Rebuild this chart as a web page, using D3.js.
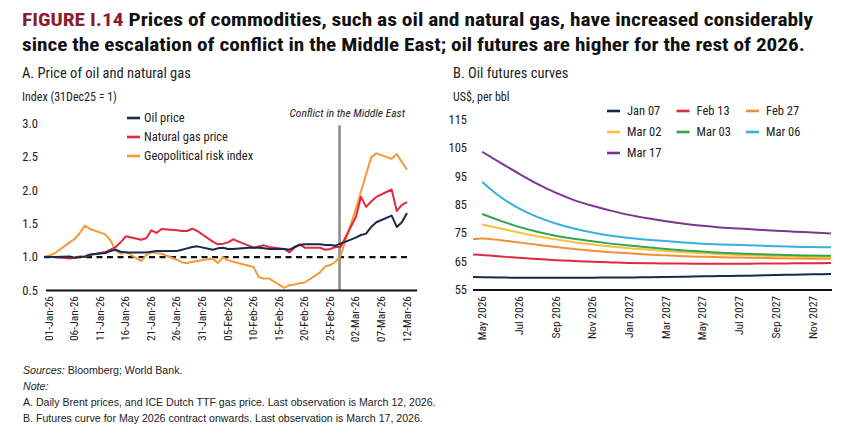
<!DOCTYPE html>
<html><head><meta charset="utf-8">
<script src="https://cdn.jsdelivr.net/npm/d3@7"></script>
<style>
body{margin:0;background:#fff;}
svg{display:block;}
text{font-family:"Liberation Sans Narrow","Arial Narrow","Roboto Condensed",sans-serif;fill:#222;}
.note{font-family:"Liberation Sans",Arial,sans-serif;}
</style></head><body>
<svg id="c" width="860" height="433"></svg>
<script>
// ---------- Panel A data ----------
const datesA = ["2025-12-31","2026-01-02","2026-01-05","2026-01-06","2026-01-07","2026-01-08","2026-01-09",
 "2026-01-12","2026-01-13","2026-01-14","2026-01-15","2026-01-16",
 "2026-01-19","2026-01-20","2026-01-21","2026-01-22","2026-01-23",
 "2026-01-26","2026-01-27","2026-01-28","2026-01-29","2026-01-30",
 "2026-02-02","2026-02-03","2026-02-04","2026-02-05","2026-02-06",
 "2026-02-09","2026-02-10","2026-02-11","2026-02-12","2026-02-13",
 "2026-02-16","2026-02-17","2026-02-18","2026-02-19","2026-02-20",
 "2026-02-23","2026-02-24","2026-02-25","2026-02-26","2026-02-27",
 "2026-03-02","2026-03-03","2026-03-04","2026-03-05","2026-03-06",
 "2026-03-09","2026-03-10","2026-03-11","2026-03-12"];
const oilPrice = [1.00,1.00,1.01,0.99,1.00,1.01,1.04,
 1.06,1.09,1.11,1.08,1.07,
 1.07,1.07,1.08,1.09,1.09,
 1.09,1.11,1.13,1.15,1.16,
 1.11,1.13,1.14,1.12,1.12,
 1.14,1.14,1.14,1.13,1.12,
 1.12,1.11,1.15,1.18,1.19,
 1.19,1.18,1.18,1.17,1.20,
 1.29,1.33,1.35,1.45,1.52,
 1.62,1.45,1.52,1.66];
const gasPrice = [1.00,1.00,0.98,0.99,1.01,1.00,1.03,
 1.075,1.11,1.15,1.22,1.31,
 1.26,1.28,1.40,1.36,1.42,
 1.40,1.39,1.39,1.425,1.39,
 1.23,1.19,1.20,1.22,1.265,
 1.17,1.14,1.16,1.175,1.15,
 1.12,1.07,1.14,1.19,1.14,
 1.14,1.11,1.12,1.15,1.15,
 1.60,1.90,1.75,1.83,1.90,
 2.01,1.69,1.78,1.82];
const geoRisk = [1.00,1.05,1.22,1.27,1.36,1.47,1.42,
 1.34,1.25,1.10,1.05,1.08,
 0.94,1.03,1.07,1.06,1.05,
 0.96,0.92,0.91,0.93,0.94,
 0.98,0.91,1.00,0.95,0.93,
 0.87,0.85,0.70,0.68,0.68,
 0.54,0.58,0.59,0.61,0.62,
 0.77,0.86,0.88,0.93,1.02,
 1.72,1.98,2.24,2.49,2.55,
 2.47,2.54,2.42,2.31];
const seriesA = ["Oil price","Natural gas price","Geopolitical risk index"];
const ticksA = ["2026-01-01","2026-01-06","2026-01-11","2026-01-16","2026-01-21","2026-01-26","2026-01-31",
 "2026-02-05","2026-02-10","2026-02-15","2026-02-20","2026-02-25","2026-03-02","2026-03-07","2026-03-12"];
const yTicksA = [0.5,1.0,1.5,2.0,2.5,3.0];
const conflictDate = "2026-02-27";

// ---------- Panel B data ----------
const contractMonths = ["2026-04","2026-05","2026-06","2026-07","2026-08","2026-09","2026-10","2026-11","2026-12",
 "2027-01","2027-02","2027-03","2027-04","2027-05","2027-06","2027-07","2027-08","2027-09","2027-10","2027-11","2027-12"];
const curveNames = ["Jan 07","Feb 13","Feb 27","Mar 02","Mar 03","Mar 06","Mar 17"];
const jan07 = [59.6,59.5,59.4,59.3,59.3,59.3,59.3,59.3,59.4,59.4,59.5,59.6,59.7,59.8,59.9,60.0,60.1,60.3,60.4,60.5,60.6];
const feb13 = [67.6,67.3,66.8,66.3,65.9,65.5,65.2,64.9,64.7,64.5,64.4,64.3,64.3,64.2,64.2,64.2,64.3,64.3,64.4,64.4,64.5];
const feb27 = [72.3,73.1,72.5,71.7,70.9,70.1,69.4,68.8,68.3,67.9,67.5,67.2,66.9,66.7,66.5,66.4,66.3,66.2,66.1,66.0,66.0];
const mar02 = [null,78.0,76.6,75.2,73.9,72.8,71.8,71.0,70.3,69.7,69.2,68.7,68.3,67.9,67.6,67.3,67.1,66.9,66.7,66.6,66.5];
const mar03 = [null,81.7,79.3,77.2,75.5,74.1,73.0,72.1,71.3,70.6,70.0,69.4,68.9,68.5,68.1,67.8,67.6,67.4,67.2,67.1,67.0];
const mar06 = [null,93.0,87.7,83.7,80.7,78.4,76.6,75.2,74.1,73.3,72.7,72.2,71.7,71.3,71.0,70.8,70.6,70.4,70.2,70.1,70.0];
const mar17 = [null,103.6,99.7,95.9,92.3,89.2,86.6,84.6,82.9,81.4,80.2,79.2,78.3,77.6,77.0,76.6,76.2,75.8,75.5,75.2,74.9];
const ticksB = ["2026-05","2026-07","2026-09","2026-11","2027-01","2027-03","2027-05","2027-07","2027-09","2027-11"];
const yTicksB = [55,65,75,85,95,105,115];

// ---------- styles ----------
const colorsA = ["#172a4c","#e2283f","#f39b3a"];
const colorsB = ["#172a4c","#e2283f","#f0913a","#f8c13a","#36a352","#36b0de","#7d3592"];

const svg = d3.select("#c");
svg.append("rect").attr("width",860).attr("height",433).attr("fill","#fff");

// Title
const t1 = svg.append("text").attr("x",22).attr("y",26).style("font-size","18px").style("font-weight","bold")
  .attr("textLength",791).attr("lengthAdjust","spacingAndGlyphs");
t1.append("tspan").text("FIGURE I.14 ").style("fill","#8c1c2c");
t1.append("tspan").text("Prices of commodities, such as oil and natural gas, have increased considerably").style("fill","#111");
svg.append("text").attr("x",22).attr("y",51).style("font-size","18px").style("font-weight","bold").style("fill","#111")
  .attr("textLength",783).attr("lengthAdjust","spacingAndGlyphs")
  .text("since the escalation of conflict in the Middle East; oil futures are higher for the rest of 2026.");

svg.append("text").attr("x",22).attr("y",78).style("font-size","14.5px").text("A. Price of oil and natural gas");
svg.append("text").attr("x",453).attr("y",78).style("font-size","14.5px").text("B. Oil futures curves");
svg.append("text").attr("x",22).attr("y",101).style("font-size","12px").text("Index (31Dec25 = 1)");
svg.append("text").attr("x",453).attr("y",101).style("font-size","12px").text("US$, per bbl");

// ---------- Panel A ----------
const parse = d3.timeParse("%Y-%m-%d");
const dA = datesA.map(parse);
const xA = d3.scaleTime().domain([parse("2025-12-31"), parse("2026-03-12")]).range([44,407]);
const yA = d3.scaleLinear().domain([0.5,3.0]).range([290.5,123.3]);
const gA = svg.append("g");

gA.selectAll(".yt").data(yTicksA).join("text")
  .attr("x",38).attr("y",d=>yA(d)).attr("dy","0.35em").attr("text-anchor","end")
  .style("font-size","12.5px").text(d=>d3.format(".1f")(d));

// baseline dashed at 1
gA.append("line").attr("x1",xA.range()[0]).attr("x2",xA.range()[1]).attr("y1",yA(1)).attr("y2",yA(1))
  .attr("stroke","#111").attr("stroke-width",2.2).attr("stroke-dasharray","6,4.5");

// conflict line
const xc = xA(parse(conflictDate));
gA.append("line").attr("x1",xc-1).attr("x2",xc-1).attr("y1",yA(2.97)).attr("y2",yA(0.5))
  .attr("stroke","#8a8a8a").attr("stroke-width",2.5);
gA.append("text").attr("x",405).attr("y",117).attr("text-anchor","end").style("font-size","11.5px")
  .style("font-style","italic").text("Conflict in the Middle East");

const valsA = [oilPrice, gasPrice, geoRisk];
const lineA = d3.line().x((d,i)=>xA(dA[i])).y(d=>yA(d));
[2,1,0].forEach(k=>{
  gA.append("path").datum(valsA[k]).attr("d",lineA).attr("fill","none")
    .attr("stroke",colorsA[k]).attr("stroke-width",2).attr("stroke-linejoin","round");
});

// x axis A
gA.append("line").attr("x1",xA.range()[0]+2).attr("x2",xA(parse("2026-03-13"))+5).attr("y1",yA(0.5)).attr("y2",yA(0.5))
  .attr("stroke","#111").attr("stroke-width",2);
const fmtA = d3.timeFormat("%d-%b-%y");
gA.selectAll(".xt").data(ticksA.map(parse)).join("text")
  .attr("transform",d=>`translate(${xA(d)+3.5},296) rotate(-90)`).attr("text-anchor","end")
  .style("font-size","11.5px").text(d=>fmtA(d));

// legend A
seriesA.forEach((s,i)=>{
  const y = 118 + i*19;
  gA.append("line").attr("x1",127).attr("x2",140).attr("y1",y).attr("y2",y).attr("stroke",colorsA[i]).attr("stroke-width",2.6);
  gA.append("text").attr("x",144).attr("y",y).attr("dy","0.35em").style("font-size","12.5px").text(s);
});

// ---------- Panel B ----------
const mIdx = s => { const [y,m] = s.split("-").map(Number); return (y-2026)*12 + m - 5; };
const xB = d3.scaleLinear().domain([-0.5,19]).range([473,831]);
const yB = d3.scaleLinear().domain([55,115]).range([290,119.3]);
const gB = svg.append("g");
svg.append("defs").append("clipPath").attr("id","clipB").append("rect")
  .attr("x",xB(-0.5)).attr("y",100).attr("width",xB(19)-xB(-0.5)+4).attr("height",200);

gB.selectAll(".yt").data(yTicksB).join("text")
  .attr("x",467).attr("y",d=>yB(d)).attr("dy","0.35em").attr("text-anchor","end")
  .style("font-size","12.5px").text(d=>d);

const valsB = [jan07,feb13,feb27,mar02,mar03,mar06,mar17];
const lineB = d3.line().defined(d=>d!=null).x((d,i)=>xB(mIdx(contractMonths[i]))).y(d=>yB(d)).curve(d3.curveMonotoneX);
const gLines = gB.append("g").attr("clip-path","url(#clipB)");
valsB.forEach((v,k)=>{
  gLines.append("path").datum(v).attr("d",lineB).attr("fill","none")
    .attr("stroke",colorsB[k]).attr("stroke-width",2);
});

gB.append("line").attr("x1",xB(-0.5)).attr("x2",xB(19)+1).attr("y1",yB(55)).attr("y2",yB(55))
  .attr("stroke","#111").attr("stroke-width",2);
const fmtB = d3.timeFormat("%b %Y");
const parseM = d3.timeParse("%Y-%m");
gB.selectAll(".xt").data(ticksB).join("text")
  .attr("transform",d=>`translate(${xB(mIdx(d))+4},296) rotate(-90)`).attr("text-anchor","end")
  .style("font-size","11.5px").text(d=>fmtB(parseM(d)));

// legend B
curveNames.forEach((s,i)=>{
  const col = i%3, row = Math.floor(i/3);
  const x = 607 + col*69.5, y = 111 + row*21;
  gB.append("line").attr("x1",x).attr("x2",x+13).attr("y1",y).attr("y2",y).attr("stroke",colorsB[i]).attr("stroke-width",2.6);
  gB.append("text").attr("x",x+20).attr("y",y).attr("dy","0.35em").style("font-size","12.5px").text(s);
});

// ---------- Notes ----------
const notes = svg.append("g").attr("class","notes");
const n1 = notes.append("text").attr("x",23).attr("y",374).attr("class","note").style("font-size","10.6px");
n1.append("tspan").text("Sources:").style("font-style","italic");
n1.append("tspan").text(" Bloomberg; World Bank.");
notes.append("text").attr("x",23).attr("y",390).attr("class","note").style("font-size","10.6px").style("font-style","italic").text("Note:");
notes.append("text").attr("x",23).attr("y",406).attr("class","note").style("font-size","10.6px")
  .text("A. Daily Brent prices, and ICE Dutch TTF gas price. Last observation is March 12, 2026.");
notes.append("text").attr("x",23).attr("y",422).attr("class","note").style("font-size","10.6px")
  .text("B. Futures curve for May 2026 contract onwards. Last observation is March 17, 2026.");
</script>
</body></html>
